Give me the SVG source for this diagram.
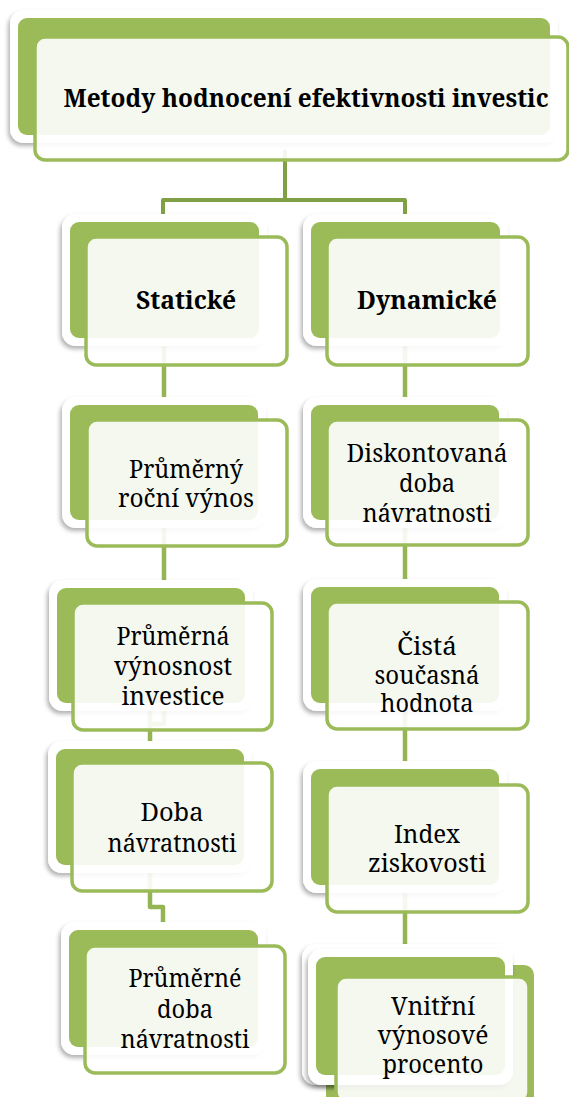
<svg xmlns="http://www.w3.org/2000/svg" width="569" height="1097" viewBox="0 0 569 1097">
<style>
.outer{fill:#ffffff;filter:url(#sh)}
.green{fill:#9bbb59}
.front{fill:#ffffff;fill-opacity:0.9;stroke:#9bbb59;stroke-width:3.5}
.t{font-family:"Noto Serif","DejaVu Serif",serif;font-size:26px;fill:#000;text-anchor:middle}
.b{font-weight:bold;font-size:25.5px}
.c1{fill:none;stroke:#80a046;stroke-width:4;stroke-linejoin:round}
.c2{fill:none;stroke:#95b555;stroke-width:4.5;stroke-linejoin:round}
</style>
<defs>
<filter id="sh" x="-10%" y="-10%" width="120%" height="130%">
<feDropShadow dx="-2" dy="3" stdDeviation="2" flood-color="#000" flood-opacity="0.3"/>
</filter>
</defs>
<rect width="569" height="1097" fill="#ffffff"/>
<g id="connectors">
<path class="c1" d="M285,150 V200 M163,218 V200 H405 V218"/>
<path class="c2" d="M164,338 V405"/>
<path class="c2" d="M164,520 V724 H150 V749 M150,703 V724"/>
<path class="c2" d="M150,865 V907 H163 V930"/>
<path class="c2" d="M405,338 V957"/>
</g>
<g id="n-root">
<rect class="outer" x="10" y="10" width="548" height="133" rx="14"/>
<rect class="green" x="18" y="18" width="532" height="117" rx="9"/>
<rect class="front" x="35" y="37" width="533" height="123" rx="10"/>
<text class="t b" x="306" y="107" textLength="485" lengthAdjust="spacingAndGlyphs">Metody hodnocení efektivnosti investic</text>
</g>
<g id="n-staticke">
<rect class="outer" x="62" y="214" width="205" height="132" rx="14"/>
<rect class="green" x="70" y="222" width="189" height="116" rx="9"/>
<rect class="front" x="86" y="237" width="201" height="128" rx="10"/>
<text class="t b" x="186" y="309" textLength="100" lengthAdjust="spacingAndGlyphs">Statické</text>
</g>
<g id="n-dynamicke">
<rect class="outer" x="303" y="214" width="205" height="132" rx="14"/>
<rect class="green" x="311" y="222" width="189" height="116" rx="9"/>
<rect class="front" x="327" y="237" width="201" height="128" rx="10"/>
<text class="t b" x="427" y="309" textLength="140" lengthAdjust="spacingAndGlyphs">Dynamické</text>
</g>
<g id="n-prumerny">
<rect class="outer" x="62" y="397" width="204" height="131" rx="14"/>
<rect class="green" x="70" y="405" width="188" height="115" rx="9"/>
<rect class="front" x="87" y="420" width="200" height="126" rx="10"/>
<text class="t" x="186" y="478" textLength="114" lengthAdjust="spacingAndGlyphs">Průměrný</text>
<text class="t" x="186" y="507" textLength="136" lengthAdjust="spacingAndGlyphs">roční výnos</text>
</g>
<g id="n-diskontovana">
<rect class="outer" x="303" y="397" width="204" height="131" rx="14"/>
<rect class="green" x="311" y="405" width="188" height="115" rx="9"/>
<rect class="front" x="327" y="420" width="201" height="125" rx="10"/>
<text class="t" x="427" y="462" textLength="161" lengthAdjust="spacingAndGlyphs">Diskontovaná</text>
<text class="t" x="427" y="492" textLength="56" lengthAdjust="spacingAndGlyphs">doba</text>
<text class="t" x="427" y="522" textLength="129" lengthAdjust="spacingAndGlyphs">návratnosti</text>
</g>
<g id="n-prumerna">
<rect class="outer" x="49" y="580" width="204" height="131" rx="14"/>
<rect class="green" x="57" y="588" width="188" height="115" rx="9"/>
<rect class="front" x="73" y="603" width="199" height="127" rx="10"/>
<text class="t" x="173" y="645" textLength="113" lengthAdjust="spacingAndGlyphs">Průměrná</text>
<text class="t" x="173" y="675" textLength="118" lengthAdjust="spacingAndGlyphs">výnosnost</text>
<text class="t" x="173" y="705" textLength="103" lengthAdjust="spacingAndGlyphs">investice</text>
</g>
<g id="n-cista">
<rect class="outer" x="303" y="579" width="204" height="132" rx="14"/>
<rect class="green" x="311" y="587" width="188" height="116" rx="9"/>
<rect class="front" x="327" y="602" width="201" height="127" rx="10"/>
<text class="t" x="427" y="655" textLength="60" lengthAdjust="spacingAndGlyphs">Čistá</text>
<text class="t" x="427" y="684" textLength="105" lengthAdjust="spacingAndGlyphs">současná</text>
<text class="t" x="427" y="712" textLength="93" lengthAdjust="spacingAndGlyphs">hodnota</text>
</g>
<g id="n-doba">
<rect class="outer" x="48" y="741" width="204" height="132" rx="14"/>
<rect class="green" x="56" y="749" width="188" height="116" rx="9"/>
<rect class="front" x="72" y="763" width="200" height="128" rx="10"/>
<text class="t" x="172" y="821" textLength="63" lengthAdjust="spacingAndGlyphs">Doba</text>
<text class="t" x="172" y="852" textLength="129" lengthAdjust="spacingAndGlyphs">návratnosti</text>
</g>
<g id="n-index">
<rect class="outer" x="303" y="761" width="204" height="132" rx="14"/>
<rect class="green" x="311" y="769" width="188" height="116" rx="9"/>
<rect class="front" x="327" y="785" width="201" height="127" rx="10"/>
<text class="t" x="427" y="843" textLength="66" lengthAdjust="spacingAndGlyphs">Index</text>
<text class="t" x="427" y="872" textLength="118" lengthAdjust="spacingAndGlyphs">ziskovosti</text>
</g>
<g id="n-prumerne">
<rect class="outer" x="61" y="922" width="205" height="133" rx="14"/>
<rect class="green" x="69" y="930" width="189" height="117" rx="9"/>
<rect class="front" x="85" y="946" width="200" height="127" rx="10"/>
<text class="t" x="185" y="987" textLength="113" lengthAdjust="spacingAndGlyphs">Průměrné</text>
<text class="t" x="185" y="1018" textLength="56" lengthAdjust="spacingAndGlyphs">doba</text>
<text class="t" x="185" y="1048" textLength="129" lengthAdjust="spacingAndGlyphs">návratnosti</text>
</g>
<g id="n-vnitrni">
<rect class="green" x="326" y="965" width="208" height="145" rx="10"/>
<rect class="outer" x="302" y="944" width="211" height="141" rx="14"/>
<rect class="outer" x="308" y="949" width="205" height="136" rx="14"/>
<rect class="green" x="316" y="957" width="189" height="118" rx="9"/>
<rect class="front" x="336" y="977" width="193" height="125" rx="10"/>
<text class="t" x="433" y="1015" textLength="84" lengthAdjust="spacingAndGlyphs">Vnitřní</text>
<text class="t" x="433" y="1044" textLength="111" lengthAdjust="spacingAndGlyphs">výnosové</text>
<text class="t" x="433" y="1073" textLength="101" lengthAdjust="spacingAndGlyphs">procento</text>
</g>
</svg>
